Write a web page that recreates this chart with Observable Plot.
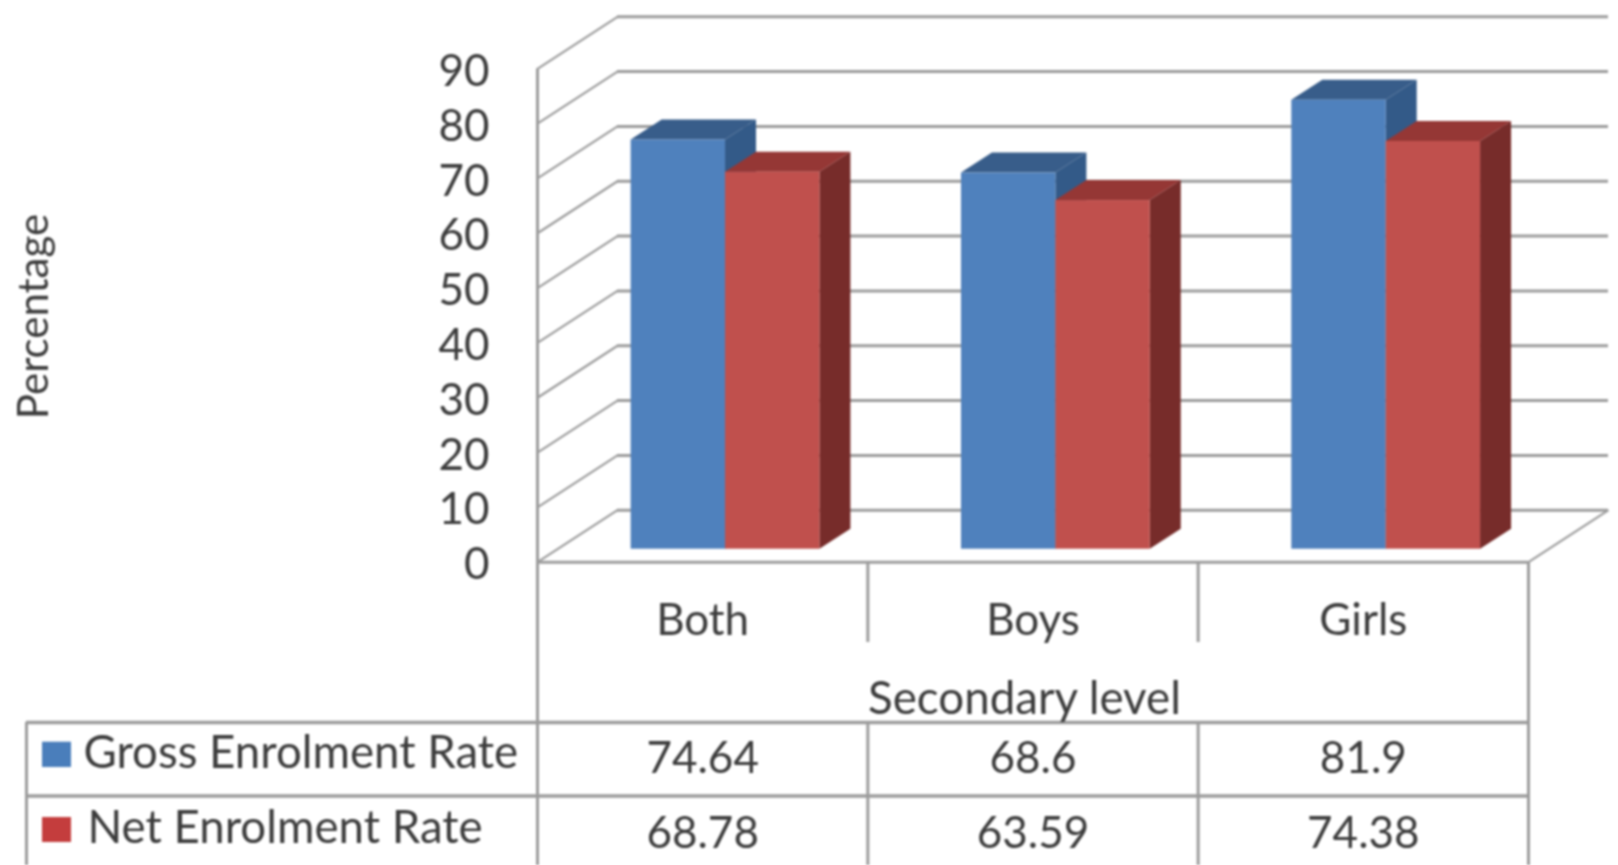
<!DOCTYPE html>
<html>
<head>
<meta charset="utf-8">
<script src="https://cdn.jsdelivr.net/npm/d3@7"></script>
<script src="https://cdn.jsdelivr.net/npm/@observablehq/plot@0.6"></script>
<style>
  html, body { margin: 0; padding: 0; background: #fff; }
  svg { display: block; filter: blur(0.8px); }
</style>
</head>
<body>
<div id="chart"></div>
<script>
// ---- chart values ----
const categories = ["Both", "Boys", "Girls"];
const grossRate = [74.64, 68.6, 81.9];
const netRate = [68.78, 63.59, 74.38];
const yTicks = [0, 10, 20, 30, 40, 50, 60, 70, 80, 90];
const yLabel = "Percentage";
const xTitle = "Secondary level";
const seriesNames = ["Gross Enrolment Rate", "Net Enrolment Rate"];

// ---- layout (x in category widths, y in percentage points) ----
const X_RANGE = [537, 1528], Y_RANGE = [561.7, 68.3];
const ux = px => (px - X_RANGE[0]) / ((X_RANGE[1] - X_RANGE[0]) / 3);
const uy = px => (Y_RANGE[0] - px) / ((Y_RANGE[0] - Y_RANGE[1]) / 90);
const wallDX = ux(617), wallDY = uy(509.7);        // depth of the chart box
const barInset = 0.2835, barW = 0.2857;            // bar position in a category
const barBase = uy(548.7);                         // bar foot raised by its depth in the box
const barDX = 31 / ((X_RANGE[1] - X_RANGE[0]) / 3), barDY = uy(541.7);
const bottom = uy(865), rowA = uy(722), rowB = uy(795.5), catEnd = uy(642), tableLeft = ux(26);

const colors = {
  gross: {front: "#4f81bd", top: "#385d8a", side: "#335a88", key: "#4a7ebb"},
  net:   {front: "#c0504d", top: "#953735", side: "#772c2a", key: "#c43d3d"}
};
const gridColor = "#9c9c9c", textColor = "#3c3c3c";

// ---- derived tables ----
const bars = [];
categories.forEach((c, i) => {
  bars.push({id: c + "g", x0: i + barInset, x1: i + barInset + barW, top: grossRate[i] + barBase, s: colors.gross});
  bars.push({id: c + "n", x0: i + barInset + barW, x1: i + barInset + 2 * barW, top: netRate[i] + barBase, s: colors.net});
});
const faces = (key, edges) => bars.flatMap(b => edges(b).map(e => ({id: b.id, fill: b.s[key], ...e})));
const topFaces = faces("top", b => [
  {a: b.x0, ay: b.top, c: b.x0 + barDX, cy: b.top + barDY},
  {a: b.x1, ay: b.top, c: b.x1 + barDX, cy: b.top + barDY}
]);
const sideFaces = faces("side", b => [
  {a: b.x1, ay: barBase, c: b.x1 + barDX, cy: barBase + barDY},
  {a: b.x1, ay: b.top, c: b.x1 + barDX, cy: b.top + barDY}
]);
const cellRows = [
  {y: uy(758), values: grossRate},
  {y: uy(833), values: netRate}
];
const cells = cellRows.flatMap(r => r.values.map((v, i) => ({x: i + 0.5, y: r.y, v: String(v)})));
const keyRows = [
  {name: seriesNames[0], tx: ux(83), ty: uy(753), k0: uy(741.7), k1: uy(767), fill: colors.gross.key},
  {name: seriesNames[1], tx: ux(87), ty: uy(828), k0: uy(817), k1: uy(842), fill: colors.net.key}
];

const line = {stroke: gridColor, strokeWidth: 3};
const faceMark = rows => Plot.area(rows, {x1: "a", y1: "ay", x2: "c", y2: "cy", z: "id", fill: "fill"});
const label = {fill: textColor, fontSize: 44, textAnchor: "middle"};

const chart = Plot.plot({
  width: 1618, height: 865,
  marginTop: 0, marginRight: 0, marginBottom: 0, marginLeft: 489,
  style: {fontFamily: "Lato, 'Open Sans', sans-serif", background: "#fff", overflow: "visible"},
  x: {domain: [0, 3], range: X_RANGE, axis: null},
  y: {domain: [0, 90], range: Y_RANGE},
  marks: [
    // back wall grid and side wall diagonals
    Plot.ruleY(yTicks, {y: d => d + wallDY, x1: wallDX, x2: 3 + wallDX, ...line}),
    Plot.link(yTicks, {x1: 0, y1: d => d, x2: wallDX, y2: d => d + wallDY, ...line, strokeWidth: 2.2}),
    Plot.link([0], {x1: 3, y1: 0, x2: 3 + wallDX, y2: wallDY, ...line, strokeWidth: 2.2}),
    // bars, drawn through faces
    faceMark(sideFaces.filter(f => f.id.endsWith("g"))),
    faceMark(topFaces.filter(f => f.id.endsWith("g"))),
    Plot.rect(bars.filter(b => b.id.endsWith("g")), {x1: "x0", x2: "x1", y1: barBase, y2: "top", fill: d => d.s.front}),
    faceMark(sideFaces.filter(f => f.id.endsWith("n"))),
    faceMark(topFaces.filter(f => f.id.endsWith("n"))),
    Plot.rect(bars.filter(b => b.id.endsWith("n")), {x1: "x0", x2: "x1", y1: barBase, y2: "top", fill: d => d.s.front}),
    // frame and table
    Plot.ruleX([0], {y1: 90, y2: bottom, ...line}),
    Plot.ruleX([3], {y1: 0, y2: bottom, ...line}),
    Plot.ruleX([1, 2], {y1: 0, y2: catEnd, ...line}),
    Plot.ruleX([1, 2], {y1: rowA, y2: bottom, ...line}),
    Plot.ruleX([tableLeft], {y1: rowA, y2: bottom, ...line}),
    Plot.ruleY([0], {x1: 0, x2: 3, ...line}),
    Plot.ruleY([rowA, rowB], {x1: tableLeft, x2: 3, ...line, strokeWidth: 3.4}),
    // axis
    Plot.axisY({ticks: yTicks, tickSize: 0, tickPadding: 0, fontSize: 44, dy: 3, label: null, fill: textColor}),
    Plot.text([yLabel], {x: ux(34), y: uy(316), text: d => d, rotate: -90, ...label, fontSize: 42}),
    // table text
    Plot.text(categories, {x: (d, i) => i + 0.5, y: uy(620), text: d => d, ...label}),
    Plot.text([xTitle], {x: ux(1024), y: uy(699), text: d => d, ...label, fontSize: 45.7}),
    Plot.text(cells, {x: "x", y: "y", text: "v", ...label}),
    Plot.rect(keyRows, {x1: ux(42), x2: ux(71), y1: "k0", y2: "k1", fill: "fill"}),
    Plot.text(keyRows, {x: "tx", y: "ty", text: "name", ...label, fontSize: 45.6, textAnchor: "start"})
  ]
});
document.getElementById("chart").append(chart);
</script>
</body>
</html>
